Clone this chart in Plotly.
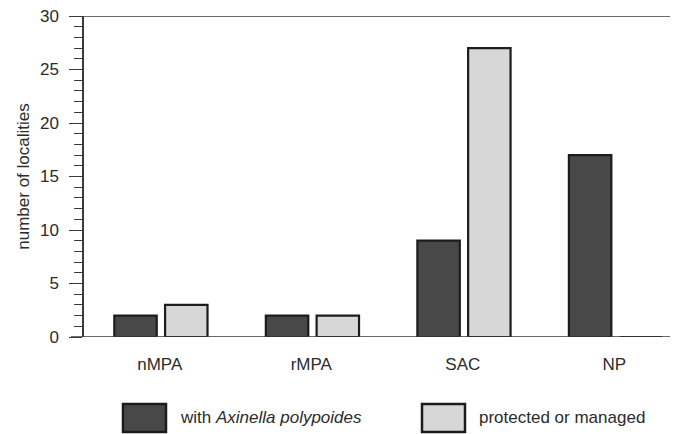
import plotly.graph_objects as go

categories = ["nMPA", "rMPA", "SAC", "NP"]
with_axinella = [2, 2, 9, 17]
protected_managed = [3, 2, 27, 0]
y_ticks = [0, 5, 10, 15, 20, 25, 30]
legend_labels = ["with <i>Axinella polypoides</i>", "protected or managed"]

# the page body adds an 8px margin; size the figure so the page is 678x434
OFF = 8
W, H = 678 - OFF, 434 - OFF
L, R, T, B = 84 - OFF, 0, 16 - OFF, 97
PW, PH = W - L - R, H - T - B

def px(x):  # x in page pixels
    return (x - OFF - L) / PW

def py(y):  # y in page pixels
    return (H - B - (y - OFF)) / PH

DARK = "#484848"
LIGHT = "#d7d7d7"
EDGE = "#1c1c1c"
AX = "#3a3a3a"
TXT = "#2b2b2b"
FONT = "Liberation Sans, Arial, sans-serif"

fig = go.Figure()
fig.add_trace(go.Bar(x=categories, y=with_axinella, width=0.28, offset=-0.30,
                     marker=dict(color=DARK, line=dict(color=EDGE, width=2.2)),
                     name=legend_labels[0], showlegend=False))
fig.add_trace(go.Bar(x=categories, y=protected_managed, width=0.28, offset=0.035,
                     marker=dict(color=LIGHT, line=dict(color=EDGE, width=2.2)),
                     name=legend_labels[1], showlegend=False))

shapes = []
for yy in (0, 30):
    shapes.append(dict(type="line", xref="paper", yref="y", x0=px(71), x1=1,
                       y0=yy, y1=yy, line=dict(color=AX, width=1.5), layer="above"))
annotations = []
for (x0, color, label, tx) in [(123, DARK, legend_labels[0], 178),
                               (422, LIGHT, legend_labels[1], 477)]:
    shapes.append(dict(type="rect", xref="paper", yref="paper",
                       x0=px(x0), x1=px(x0 + 43), y0=py(404), y1=py(432),
                       fillcolor=color, line=dict(color=EDGE, width=2.5)))
    annotations.append(dict(text=label, xref="paper", yref="paper", x=px(tx), y=py(417),
                            xanchor="left", yanchor="middle", showarrow=False,
                            font=dict(family=FONT, size=17, color=TXT)))

fig.update_layout(
    width=W, height=H,
    margin=dict(l=L, r=R, t=T, b=B),
    paper_bgcolor="white", plot_bgcolor="white",
    barmode="group",
    showlegend=False,
    shapes=shapes,
    annotations=annotations,
    font=dict(family=FONT, color=TXT),
    xaxis=dict(range=[-0.5, 3.42], showline=False, showgrid=False, zeroline=False,
               automargin=False,
               ticks="", tickfont=dict(size=17, color=TXT), ticklabelstandoff=15),
    yaxis=dict(range=[0, 30], tickvals=y_ticks, showgrid=False, zeroline=False,
               automargin=False, ticklabeloverflow="allow",
               showline=True, linecolor=AX, linewidth=1.5,
               ticks="outside", ticklen=13, tickwidth=1.3, tickcolor=AX,
               minor=dict(dtick=1, ticks="outside", ticklen=8, tickwidth=1.3, tickcolor=AX),
               tickfont=dict(size=17, color=TXT), ticklabelstandoff=7,
               title=dict(text="number of localities", font=dict(size=17, color=TXT), standoff=6)),
)

fig.write_html("out.html")
